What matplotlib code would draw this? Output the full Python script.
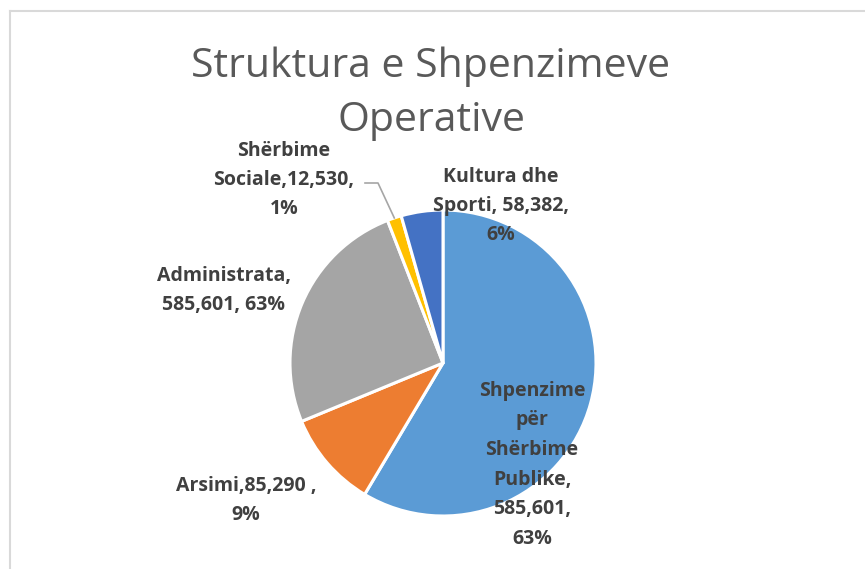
import matplotlib
matplotlib.use("Agg")
import matplotlib.pyplot as plt
import numpy as np
from matplotlib.lines import Line2D

# ---- data ----
categories = ["Shpenzime për Shërbime Publike", "Arsimi", "Administrata",
              "Shërbime Sociale", "Kultura dhe Sporti"]
shares = [58.5, 10.2, 25.3, 1.5, 4.4]          # slice sizes (%)
label_lines = [
    ["Shpenzime", "për", "Shërbime", "Publike,", "585,601,", "63%"],
    ["Arsimi,85,290 ,", "9%"],
    ["Administrata,", "585,601, 63%"],
    ["Shërbime", "Sociale,12,530,", "1%"],
    ["Kultura dhe", "Sporti, 58,382,", "6%"],
]
colors = ["#5B9BD5", "#ED7D31", "#A5A5A5", "#FFC000", "#4472C4"]
title_lines = ["Struktura e Shpenzimeve", "Operative"]

W, H = 865, 569
fig = plt.figure(figsize=(W / 100, H / 100), dpi=100)
fig.patch.set_facecolor("white")

def fx(px):
    return px / W

def fy(py):
    return 1 - py / H

# chart border
fig.add_artist(Line2D([fx(9.5), fx(W + 5)], [fy(11), fy(11)], color="#D9D9D9", lw=1.5))
fig.add_artist(Line2D([fx(9.5), fx(9.5)], [fy(11), fy(H + 5)], color="#D9D9D9", lw=1.5))

# pie axes
cx, cy, r = 443, 363, 153
ax = fig.add_axes([fx(cx - r), fy(cy + r), 2 * r / W, 2 * r / H])
wedges, _ = ax.pie(shares, colors=colors, startangle=90, counterclock=False,
                   wedgeprops=dict(edgecolor="white", linewidth=2.2))
ax.set_xlim(-1, 1)
ax.set_ylim(-1, 1)
ax.set_aspect("equal")
ax.axis("off")

# title
title_font = dict(family=["Open Sans", "DejaVu Sans"], color="#595959", fontsize=29.5, weight="normal")
for line, base in zip(title_lines, [77, 131]):
    fig.text(fx(431), fy(base), line, ha="center", va="baseline", **title_font)

# data labels
label_font = dict(family=["Open Sans", "DejaVu Sans"], color="#404040", fontsize=14, weight="bold")
label_pos = [
    (532, 396, 29.5),
    (246, 491, 29),
    (224, 281, 29),
    (284, 156, 29),
    (501, 182, 29),
]
for lines, (x, y0, dy) in zip(label_lines, label_pos):
    for i, line in enumerate(lines):
        fig.text(fx(x), fy(y0 + i * dy), line, ha="center", va="baseline", **label_font)

# leader line for Shërbime Sociale
w = wedges[3]
mid = np.deg2rad((w.theta1 + w.theta2) / 2)
ex, ey = np.cos(mid), np.sin(mid)
def dx(px):
    return (px - cx) / r
def dy_(py):
    return (cy - py) / r
ax.plot([dx(365), dx(378), ex], [dy_(183), dy_(183), ey], color="#A6A6A6", lw=1.2, clip_on=False)

fig.savefig("out.png", dpi=100, facecolor="white")
